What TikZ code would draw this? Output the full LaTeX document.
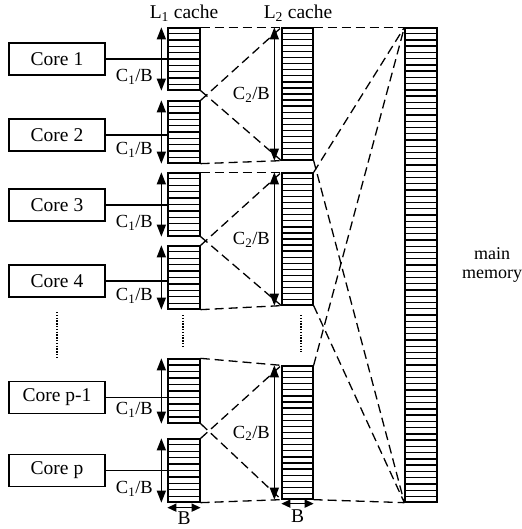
\documentclass[tikz,border=0pt]{standalone}
\usepackage{fontspec}
\setmainfont{Liberation Serif}
\usetikzlibrary{arrows.meta,calc}
\begin{document}
\begin{tikzpicture}[x=1pt,y=-1pt,
  core/.style={draw,line width=1.2pt,minimum width=96pt,minimum height=32pt,inner sep=0pt,font=\fontsize{19.5}{22}\selectfont},
  cachebox/.style={draw,line width=1.3pt,minimum width=32pt,inner sep=0pt},
  rowline/.style={line width=1.3pt},
  dimarrow/.style={line width=1.5pt,{Triangle[width=9pt,length=12pt]}-{Triangle[width=9pt,length=12pt]}},
  barrow/.style={line width=1.5pt,{Triangle[width=8pt,length=9pt]}-{Triangle[width=8pt,length=9pt]}},
  link/.style={line width=1.2pt},
  dl/.style={line width=1.3pt,dash pattern=on 9pt off 5pt},
  dots/.style={line width=1.3pt,dash pattern=on 1.3pt off 1.5pt},
  lbl/.style={font=\fontsize{19.5}{22}\selectfont,inner sep=0pt},
  mlbl/.style={font=\fontsize{18}{20}\selectfont,inner sep=0pt},
  clbl/.style={font=\fontsize{18.5}{20}\selectfont,inner sep=0pt}]
\useasboundingbox (0,0) rectangle (521,529);
% cores
\node[core] (c1) at (57,59) {Core 1};
\node[core] (c2) at (57,135) {Core 2};
\node[core] (c3) at (57,205) {Core 3};
\node[core] (c4) at (57,281) {Core 4};
\node[core] (c5) at (57,397.5) {Core p-1};
\node[core] (c6) at (57,470.5) {Core p};
% L1 caches
\node[cachebox,minimum height=62pt] (l1a) at (184,59) {};
\node[cachebox,minimum height=62pt] (l1b) at (184,132) {};
\node[cachebox,minimum height=63pt] (l1c) at (184,204.5) {};
\node[cachebox,minimum height=63pt] (l1d) at (184,277.5) {};
\node[cachebox,minimum height=64pt] (l1e) at (184,391) {};
\node[cachebox,minimum height=63pt] (l1f) at (184,470.5) {};
% L2 caches
\node[cachebox,minimum width=31pt,minimum height=132pt] (l2a) at (297.5,94) {};
\node[cachebox,minimum width=31pt,minimum height=132pt] (l2b) at (297.5,239) {};
\node[cachebox,minimum width=31pt,minimum height=133pt] (l2c) at (297.5,432.5) {};
% main memory
\node[cachebox,minimum height=474pt] (mem) at (421,265) {};
% rows
\foreach \n/\k in {l1a/10,l1b/10,l1c/10,l1d/10,l1e/10,l1f/10,l2a/22,l2b/22,l2c/22,mem/76}
  \foreach \i in {1,...,\k}
    \draw[rowline] ($(\n.south west)!{\i/\k}!(\n.north west)$) -- ($(\n.south east)!{\i/\k}!(\n.north east)$);
% titles
\node[lbl] (t1) at (184,13) {L\textsubscript{1} cache};
\node[lbl] (t2) at (298,13) {L\textsubscript{2} cache};
\node[mlbl,align=center] (tm) at (492,265) {main\\[-1pt]memory};
% core links and dimension arrows
\foreach \c/\l in {c1/l1a,c2/l1b,c3/l1c,c4/l1d,c5/l1e,c6/l1f}{
  \draw[link] (\c.east) -- (\c.east -| \l.west);
  \draw[dimarrow] ([xshift=-6pt]\l.north west) -- ([xshift=-6pt]\l.south west);
  \node[clbl] at ([xshift=-33pt,yshift=14pt]\l.south west) {C\textsubscript{1}/B};
}
\foreach \l in {l2a,l2b,l2c}{
  \draw[dimarrow] ([xshift=-7pt]\l.north west) -- ([xshift=-7pt]\l.south west);
  \node[clbl] at ([xshift=-30pt,yshift=-1pt]\l.west) {C\textsubscript{2}/B};
}
% B arrows
\draw[barrow] ([yshift=-5pt]l1f.south west) -- ([yshift=-5pt]l1f.south east);
\node[lbl] (b1) at (184,518.5) {B};
\draw[barrow] ([yshift=-4pt]l2c.south west) -- ([yshift=-4pt]l2c.south east);
\node[lbl] (b2) at (297.5,516.5) {B};
% dashed mapping L1 -> L2
\draw[dl] (l1a.north east) -- (l2a.north west);
\draw[dl] (l1b.north east) -- (l2a.north west);
\draw[dl] (l1a.south east) -- (l2a.south west);
\draw[dl] (l1b.south east) -- (l2a.south west);
\draw[dl] (l1c.north east) -- (l2b.north west);
\draw[dl] (l1d.north east) -- (l2b.north west);
\draw[dl] (l1c.south east) -- (l2b.south west);
\draw[dl] (l1d.south east) -- (l2b.south west);
\draw[dl] (l1e.north east) -- (l2c.north west);
\draw[dl] (l1f.north east) -- (l2c.north west);
\draw[dl] (l1e.south east) -- (l2c.south west);
\draw[dl] (l1f.south east) -- (l2c.south west);
% dashed mapping L2 -> memory
\draw[dl] (l2a.north east) -- (mem.north west);
\draw[dl] (l2b.north east) -- (mem.north west);
\draw[dl] (l2c.north east) -- (mem.north west);
\draw[dl] (l2a.south east) -- (mem.south west);
\draw[dl] (l2b.south east) -- (mem.south west);
\draw[dl] (l2c.south east) -- (mem.south west);
% ellipsis dots
\coordinate (d1a) at (57,312); \coordinate (d1b) at (57,357);
\coordinate (d2a) at (183,315); \coordinate (d2b) at (183,346);
\coordinate (d3a) at (301,315); \coordinate (d3b) at (301,352);
\draw[dots] (d1a) -- (d1b);
\draw[dots] (d2a) -- (d2b);
\draw[dots] (d3a) -- (d3b);
\end{tikzpicture}
\end{document}
